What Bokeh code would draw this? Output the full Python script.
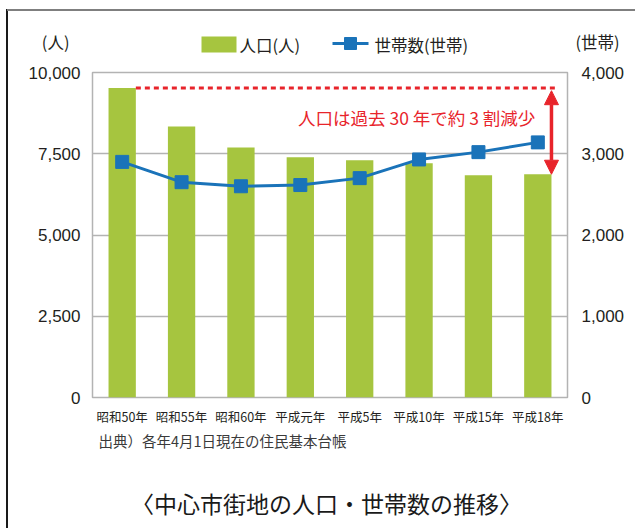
from bokeh.plotting import figure
from bokeh.models import Range1d, LinearAxis, FixedTicker, NumeralTickFormatter, Label, Arrow, NormalHead
from bokeh.layouts import column
from bokeh.embed import file_html
from bokeh.resources import INLINE
from bokeh.core.properties import value

# ---- data ----
categories = ["昭和50年", "昭和55年", "昭和60年", "平成元年", "平成5年", "平成10年", "平成15年", "平成18年"]
population = [9520, 8340, 7690, 7390, 7300, 7210, 6840, 6870]
households = [2900, 2650, 2600, 2615, 2700, 2930, 3020, 3140]
left_ticks = [0, 2500, 5000, 7500, 10000]
right_ticks = [0, 1000, 2000, 3000, 4000]
left_unit = "(人)"
right_unit = "(世帯)"
legend_pop = "人口(人)"
legend_hh = "世帯数(世帯)"
note = "人口は過去 30 年で約 3 割減少"
source_text = "出典）各年4月1日現在の住民基本台帳"
title_text = "〈中心市街地の人口・世帯数の推移〉"

JP = "Noto Sans CJK JP"
NUM = "Liberation Sans"
TXT = "#231f20"
GREEN = "#a6c53f"
BLUE = "#1a73b9"
RED = "#e8242b"
GRAY = "#b3b3b3"

W = 635
BL, BR = 92, 68          # shared side borders -> plot area x 92..567
TOP_H = 55               # strip with units and legend (page y 0..55)
MAIN_T, FRAME_H, MAIN_B = 17, 326, 30
MAIN_H = MAIN_T + FRAME_H + MAIN_B   # page y 55..428
BOT_H = 528 - TOP_H - MAIN_H         # page y 428..528


def style_axis(ax, font, size, standoff):
    ax.axis_line_color = None
    ax.major_tick_line_color = None
    ax.minor_tick_line_color = None
    ax.major_label_text_color = TXT
    ax.major_label_text_font = font
    ax.major_label_text_font_size = size
    ax.major_label_standoff = standoff


# ---- top strip: units + legend (data units = page pixels) ----
top = figure(width=W, height=TOP_H, x_range=Range1d(BL, W - BR), y_range=Range1d(TOP_H, 0),
             output_backend="svg", toolbar_location=None, x_axis_location=None,
             min_border_left=BL, min_border_right=BR, min_border_top=0, min_border_bottom=0)
top.grid.visible = False
top.outline_line_color = None
top.background_fill_color = None
top.border_fill_color = None
unit_y = 45
top.yaxis.ticker = FixedTicker(ticks=[unit_y])
top.yaxis.major_label_overrides = {unit_y: left_unit}
style_axis(top.yaxis[0], JP, "16.5px", 17)
r_unit = LinearAxis(ticker=FixedTicker(ticks=[unit_y]), major_label_overrides={unit_y: right_unit})
style_axis(r_unit, JP, "16.5px", 2)
top.add_layout(r_unit, "right")

top.quad(left=[201], right=[236], top=[36], bottom=[52], fill_color=GREEN, line_color=None)
top.text(x=[239], y=[44], text=[legend_pop], text_font=value(JP), text_font_size="16.5px",
         text_align="left", text_baseline="middle", text_color=TXT)
top.line(x=[332, 368], y=[43, 43], line_color=BLUE, line_width=3)
top.scatter(x=[350], y=[43], marker="square", size=12, fill_color=BLUE, line_color=BLUE)
top.text(x=[374], y=[44], text=[legend_hh], text_font=value(JP), text_font_size="16.5px",
         text_align="left", text_baseline="middle", text_color=TXT)

# ---- main chart ----
n = len(categories)
xs = list(range(n))
bw = 0.46
p = figure(width=W, height=MAIN_H, x_range=Range1d(-0.5, n - 0.5),
           y_range=Range1d(left_ticks[0], left_ticks[-1]),
           output_backend="svg", toolbar_location=None,
           min_border_left=BL, min_border_right=BR, min_border_top=MAIN_T, min_border_bottom=MAIN_B)
p.border_fill_color = None
p.extra_y_ranges = {"hh": Range1d(right_ticks[0], right_ticks[-1])}
p.add_layout(LinearAxis(y_range_name="hh"), "right")

p.xaxis.ticker = FixedTicker(ticks=xs)
p.xaxis.major_label_overrides = {i: c for i, c in zip(xs, categories)}
style_axis(p.xaxis[0], JP, "12.5px", 3)

p.yaxis[0].ticker = FixedTicker(ticks=left_ticks)
p.yaxis[1].ticker = FixedTicker(ticks=right_ticks)
style_axis(p.yaxis[0], NUM, "17px", 6)
style_axis(p.yaxis[1], NUM, "17px", 8)
for ax in p.yaxis:
    ax.formatter = NumeralTickFormatter(format="0,0")

p.xgrid.visible = False
p.ygrid.ticker = FixedTicker(ticks=left_ticks)
p.ygrid.grid_line_color = GRAY
p.ygrid.grid_line_width = 1.5
p.outline_line_color = GRAY
p.outline_line_width = 1.5

p.vbar(x=xs, top=population, width=bw, fill_color=GREEN, line_color=None)
p.line(x=xs, y=households, y_range_name="hh", line_color=BLUE, line_width=3)
p.scatter(x=xs, y=households, y_range_name="hh", marker="square", size=13,
          fill_color=BLUE, line_color=BLUE)

# annotation: decline over 30 years
p.segment(x0=[xs[0] + bw / 2], y0=[population[0]], x1=[xs[-1] + 0.3], y1=[population[0]],
          line_color=RED, line_width=3, line_dash="5 4")
ax_x = xs[-1] + 0.23
p.add_layout(Arrow(start=NormalHead(size=14, fill_color=RED, line_color=RED),
                   end=NormalHead(size=14, fill_color=RED, line_color=RED),
                   x_start=ax_x, y_start=population[0] - 80, x_end=ax_x, y_end=population[-1],
                   line_color=RED, line_width=3.5))
p.add_layout(Label(x=4.96, y=8620, text=note, text_font=JP, text_font_size="17.5px",
                   text_color=RED, text_align="center", text_baseline="middle"))

# ---- bottom strip: source + title (data units = page pixels) ----
y0_bot = TOP_H + MAIN_H
bot = figure(width=W, height=BOT_H, x_range=Range1d(BL, W - BR),
             y_range=Range1d(y0_bot + BOT_H, y0_bot),
             output_backend="svg", toolbar_location=None,
             x_axis_location=None, y_axis_location=None,
             min_border_left=BL, min_border_right=BR, min_border_top=0, min_border_bottom=0)
bot.grid.visible = False
bot.outline_line_color = None
bot.background_fill_color = None
bot.border_fill_color = None
bot.text(x=[98], y=[440], text=[source_text], text_font=value(JP), text_font_size="14.5px",
         text_align="left", text_baseline="middle", text_color="#3a3a3a")
bot.text(x=[326], y=[502], text=[title_text], text_font=value(JP), text_font_size="23px",
         text_align="center", text_baseline="middle", text_color="#1a1a1a")

page_lines = ("linear-gradient(#7f7f7f, #7f7f7f) 7px 9px / 628px 2px no-repeat, "
              "linear-gradient(#1a1a1a, #1a1a1a) 6px 9px / 2px 519px no-repeat, #ffffff")
layout = column(top, p, bot, styles={"background": page_lines})
open("out.html", "w").write(file_html(layout, INLINE))
